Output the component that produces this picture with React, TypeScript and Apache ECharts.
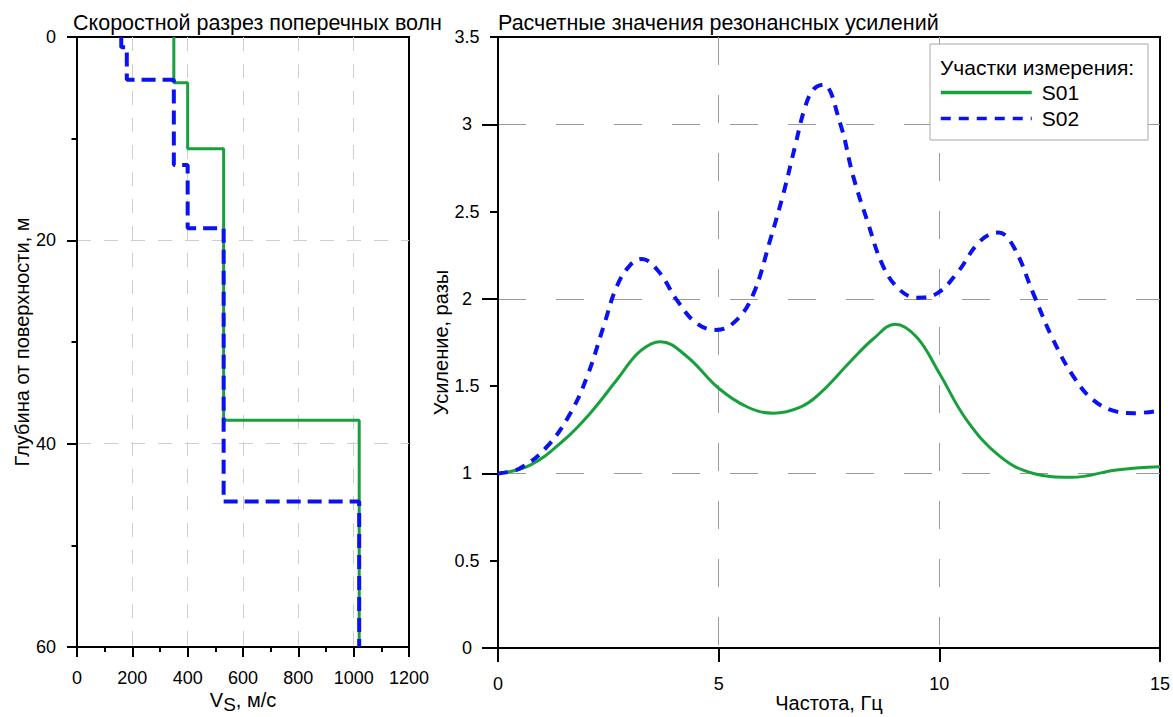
import React, { useEffect, useRef } from "react";
import * as echarts from "echarts";

// ---- Left chart: shear-wave velocity profile (step lines: [Vs, depth]) ----
const s01Vs = [350, 350, 400, 400, 530, 530, 1020, 1020];
const s01Depth = [0, 4.5, 4.5, 11, 11, 37.7, 37.7, 60];
const s02Vs = [160, 160, 180, 180, 350, 350, 400, 400, 530, 530, 1020, 1020];
const s02Depth = [0, 1, 1, 4.2, 4.2, 12.6, 12.6, 18.8, 18.8, 45.7, 45.7, 60];

// ---- Right chart: amplification vs frequency ----
const s01Freq = [0, 0.73, 1.49, 2.09, 2.69, 3.22, 3.68, 4.28, 5.0, 5.64, 6.24, 6.85, 7.3, 7.98, 8.5, 9.0, 9.49, 10.0, 10.62, 11.38, 12.13, 13.0, 14.02, 15];
const s01Amp = [1.0, 1.048, 1.19, 1.345, 1.535, 1.7, 1.755, 1.67, 1.488, 1.382, 1.345, 1.38, 1.46, 1.64, 1.77, 1.855, 1.78, 1.574, 1.306, 1.096, 1.0, 0.978, 1.02, 1.038];
const s02Freq = [0, 0.5, 1.11, 1.64, 2.02, 2.39, 2.69, 3.0, 3.26, 3.64, 4.05, 4.5, 4.96, 5.41, 5.79, 6.17, 6.47, 6.73, 6.96, 7.15, 7.37, 7.75, 8.05, 8.36, 8.73, 9.11, 9.49, 9.94, 10.4, 10.92, 11.34, 11.68, 12.13, 12.58, 13.04, 13.49, 14.02, 14.4, 15];
const s02Amp = [1.0, 1.03, 1.153, 1.345, 1.555, 1.84, 2.07, 2.195, 2.228, 2.157, 1.994, 1.86, 1.822, 1.88, 2.03, 2.34, 2.606, 2.873, 3.1, 3.2, 3.227, 3.007, 2.7, 2.453, 2.185, 2.05, 2.007, 2.03, 2.147, 2.33, 2.38, 2.3, 2.03, 1.765, 1.555, 1.42, 1.354, 1.345, 1.36];

const seriesNames = ["S01", "S02"];
const leftTitle = "Скоростной разрез поперечных волн";
const rightTitle = "Расчетные значения резонансных усилений";
const legendTitle = "Участки измерения:";
const leftYName = "Глубина от поверхности, м";
const rightXName = "Частота, Гц";
const rightYName = "Усиление, разы";
const rightIntTicks = [0, 1, 2, 3];

const FONT = "'Liberation Sans', Arial, Helvetica, sans-serif";
const GREEN = "#17a03c";
const BLUE = "#0a12f0";
const TICK = "#000";

const zip = (a: number[], b: number[]) => a.map((v, i) => [v, b[i]]);
const plain = (v: number) => String(v);

export default function App() {
  const ref = useRef<HTMLDivElement>(null);
  useEffect(() => {
    if (!ref.current) return;
    const chart = echarts.init(ref.current, undefined, { renderer: "svg" });
    const axisLine = { show: true, onZero: false, lineStyle: { color: "#000", width: 2 } };
    const label = { color: "#000", fontSize: 18, fontFamily: FONT, formatter: plain };
    const nameStyle = { color: "#000", fontSize: 20, fontFamily: FONT };
    const tick = (len: number) => ({ show: true, inside: false, length: len, lineStyle: { color: TICK, width: 2 } });
    const lightGrid = { show: true, showMinLine: false, showMaxLine: false, lineStyle: { color: "#cfcfcf", width: 1, type: [14, 13] } };
    const darkGrid = { show: true, showMinLine: false, showMaxLine: false, lineStyle: { color: "#9a9a9a", width: 1, type: [28, 30] } };
    chart.setOption({
      animation: false,
      backgroundColor: "#fff",
      textStyle: { fontFamily: FONT },
      title: [
        { text: leftTitle, left: 73, top: 12, padding: 0, textStyle: { fontSize: 21.5, fontWeight: "normal", color: "#000", fontFamily: FONT } },
        { text: rightTitle, left: 498, top: 12, padding: 0, textStyle: { fontSize: 21.5, fontWeight: "normal", color: "#000", fontFamily: FONT } },
      ],
      grid: [
        { left: 77, top: 37, width: 332, height: 610, show: true, borderColor: "#000", borderWidth: 2, containLabel: false, outerBoundsMode: "none" },
        { left: 498, top: 37, width: 662, height: 611, show: true, borderColor: "#000", borderWidth: 2, containLabel: false, outerBoundsMode: "none" },
      ],
      xAxis: [
        {
          gridIndex: 0, type: "value", min: 0, max: 1200, interval: 200, position: "bottom",
          axisLine, axisTick: tick(10),
          minorTick: { show: true, splitNumber: 2, length: 5, lineStyle: { color: TICK, width: 2 } },
          axisLabel: { ...label, margin: 22 },
          splitLine: lightGrid,
          name: "{v|V}{s|S}{v|, м/с}", nameLocation: "middle", nameGap: 43, nameMoveOverlap: false,
          nameTextStyle: {
            ...nameStyle,
            rich: {
              v: { fontSize: 20, fontFamily: FONT, color: "#000", lineHeight: 24, verticalAlign: "top" },
              s: { fontSize: 19, fontFamily: FONT, color: "#000", lineHeight: 24, verticalAlign: "top", padding: [5, 0, 0, 0] },
            },
          },
        },
        {
          gridIndex: 1, type: "value", min: 0, max: 15, interval: 5, position: "bottom",
          axisLine, axisTick: tick(14),
          axisLabel: { ...label, margin: 27 },
          splitLine: darkGrid,
          name: rightXName, nameLocation: "middle", nameGap: 45, nameMoveOverlap: false, nameTextStyle: nameStyle,
        },
      ],
      yAxis: [
        {
          gridIndex: 0, type: "value", min: 0, max: 60, interval: 20, inverse: true, position: "left",
          axisLine, axisTick: tick(10),
          minorTick: { show: true, splitNumber: 2, length: 5.5, lineStyle: { color: TICK, width: 2 } },
          axisLabel: { ...label, margin: 21 },
          splitLine: lightGrid,
          name: leftYName, nameLocation: "middle", nameGap: 45, nameMoveOverlap: false, nameTextStyle: nameStyle,
        },
        {
          gridIndex: 1, type: "value", min: 0, max: 3.5, interval: 0.5, position: "left",
          axisLine, axisTick: tick(8),
          axisLabel: { ...label, margin: 31, align: "center" },
          splitLine: { show: false },
          name: rightYName, nameLocation: "middle", nameGap: 47, nameMoveOverlap: false, nameTextStyle: nameStyle,
        },
        {
          gridIndex: 1, type: "value", min: 0, max: 3.5, interval: 1, position: "left",
          axisLine: { show: false },
          axisTick: { ...tick(16), customValues: rightIntTicks },
          axisLabel: { show: false },
          splitLine: { ...darkGrid, showMaxLine: true },
        },
      ],
      legend: {
        data: seriesNames,
        orient: "vertical",
        left: 939, top: 82, padding: 0,
        itemWidth: 91, itemHeight: 20, itemGap: 5,
        itemStyle: { opacity: 0 },
        lineStyle: { width: 3.5 },
        textStyle: { fontSize: 21, color: "#000", fontFamily: FONT, padding: [0, 0, 0, 5] },
        z: 120,
      },
      graphic: [
        { type: "rect", z: 100, shape: { x: 930, y: 44, width: 218, height: 96 }, style: { fill: "#fff", stroke: "#a8a8a8", lineWidth: 1 } },
        { type: "text", z: 110, x: 940, y: 67, style: { text: legendTitle, fontSize: 21, fontFamily: FONT, fill: "#000", verticalAlign: "middle" } },
      ],
      series: [
        {
          name: "S01-profile", type: "line", xAxisIndex: 0, yAxisIndex: 0, data: zip(s01Vs, s01Depth),
          symbol: "none", lineStyle: { color: GREEN, width: 3 }, itemStyle: { color: GREEN }, z: 3,
        },
        {
          name: "S02-profile", type: "line", xAxisIndex: 0, yAxisIndex: 0, data: zip(s02Vs, s02Depth),
          symbol: "none", lineStyle: { color: BLUE, width: 4, type: [14, 7] }, itemStyle: { color: BLUE }, z: 4,
        },
        {
          name: seriesNames[0], type: "line", xAxisIndex: 1, yAxisIndex: 1, data: zip(s01Freq, s01Amp),
          symbol: "none", smooth: 0.4, lineStyle: { color: GREEN, width: 3 }, itemStyle: { color: GREEN }, z: 3,
        },
        {
          name: seriesNames[1], type: "line", xAxisIndex: 1, yAxisIndex: 1, data: zip(s02Freq, s02Amp),
          symbol: "none", smooth: 0.4, lineStyle: { color: BLUE, width: 4, type: [10, 8] }, itemStyle: { color: BLUE }, z: 4,
        },
      ],
    });
    return () => chart.dispose();
  }, []);
  return <div ref={ref} style={{ position: "fixed", left: 0, top: 0, width: 1173, height: 717 }} />;
}
